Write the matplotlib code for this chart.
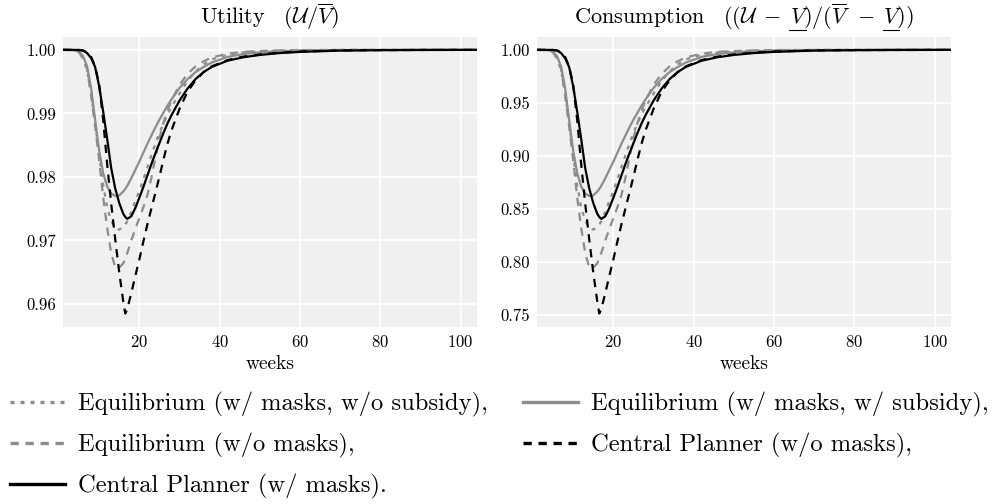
import matplotlib
matplotlib.use("Agg")
import matplotlib.pyplot as plt
from matplotlib.lines import Line2D
from matplotlib.transforms import IdentityTransform
from matplotlib.ticker import FormatStrFormatter, MultipleLocator

plt.rcParams['font.family'] = ['cmr10', 'DejaVu Serif']
plt.rcParams['mathtext.fontset'] = 'cm'
plt.rcParams['axes.formatter.use_mathtext'] = True

# ---------------- data ----------------
weeks = [1, 4, 5, 6, 7, 8, 9, 10, 11, 12, 13, 14, 15, 16, 16.5, 17, 18, 19, 20, 21,
         22, 23, 24, 25, 26, 27, 28, 30, 32, 34, 36, 38, 42, 46, 50, 55, 60, 70, 80, 90, 104]

# Utility  (U / V-bar)
util_eq_masks_nosub = [1.0, 0.99995, 0.99965, 0.9987, 0.9968, 0.9932, 0.9885, 0.9835, 0.9787, 0.9752,
                       0.9731, 0.972, 0.9717, 0.9721, 0.9725, 0.973, 0.9745, 0.9762, 0.9778, 0.9796,
                       0.9815, 0.9834, 0.9852, 0.9869, 0.9884, 0.9898, 0.991, 0.9931, 0.9951, 0.9966,
                       0.9977, 0.9985, 0.99925, 0.9996, 0.99978, 0.9999, 0.99995, 0.99999, 1.0, 1.0, 1.0]
util_eq_nomasks = [1.0, 0.99995, 0.9996, 0.9986, 0.997, 0.9928, 0.988, 0.9827, 0.9768, 0.972,
                   0.968, 0.9658, 0.9657, 0.9664, 0.9671, 0.968, 0.97, 0.9718, 0.9735, 0.9752,
                   0.9771, 0.9798, 0.983, 0.9861, 0.9885, 0.9904, 0.992, 0.9945, 0.9962, 0.9974,
                   0.9982, 0.9988, 0.9994, 0.9997, 0.99982, 0.99992, 0.99996, 0.99999, 1.0, 1.0, 1.0]
util_cp_masks = [1.0, 1.0, 0.99998, 0.9999, 0.9995, 0.9987, 0.9973, 0.9943, 0.9903, 0.986,
                 0.9814, 0.9782, 0.9759, 0.9742, 0.9737, 0.9734, 0.9738, 0.9751, 0.9767, 0.9784,
                 0.9802, 0.982, 0.9837, 0.9853, 0.9869, 0.9884, 0.9897, 0.992, 0.9939, 0.9954,
                 0.9965, 0.9973, 0.9983, 0.99885, 0.9992, 0.9995, 0.99968, 0.99988, 0.99995, 0.99998, 1.0]
util_eq_masks_sub = [1.0, 0.99995, 0.9997, 0.999, 0.9974, 0.994, 0.989, 0.9842, 0.9806, 0.9785,
                     0.9774, 0.977, 0.9771, 0.9777, 0.9781, 0.9786, 0.9798, 0.9811, 0.9824, 0.9838,
                     0.9852, 0.9865, 0.9878, 0.989, 0.9901, 0.9912, 0.9922, 0.994, 0.9954, 0.9965,
                     0.9973, 0.998, 0.9989, 0.99935, 0.9996, 0.9998, 0.9999, 0.99997, 0.99999, 1.0, 1.0]
util_cp_nomasks = [1.0, 1.0, 0.99998, 0.9999, 0.9996, 0.9989, 0.9974, 0.9946, 0.989, 0.982,
                   0.9758, 0.9702, 0.965, 0.9604, 0.9585, 0.9592, 0.9617, 0.9644, 0.967, 0.9698,
                   0.9725, 0.975, 0.9775, 0.98, 0.9827, 0.9852, 0.9873, 0.9907, 0.9934, 0.9952,
                   0.9965, 0.9974, 0.9984, 0.99895, 0.99928, 0.99957, 0.99974, 0.99991, 0.99996, 0.99999, 1.0]

# Consumption  ((U - V_)/(V-bar - V_))
cons_eq_masks_nosub = [1.0, 0.9997, 0.9979, 0.9922, 0.9808, 0.9592, 0.931, 0.901, 0.8722, 0.8512,
                       0.8386, 0.832, 0.8302, 0.8326, 0.835, 0.838, 0.847, 0.8572, 0.8668, 0.8776,
                       0.889, 0.9004, 0.9112, 0.9214, 0.9304, 0.9388, 0.946, 0.9586, 0.9706, 0.9796,
                       0.9862, 0.991, 0.9955, 0.9976, 0.9987, 0.9994, 0.9997, 0.9999, 1.0, 1.0, 1.0]
cons_eq_nomasks = [1.0, 0.9997, 0.9976, 0.9916, 0.982, 0.9568, 0.928, 0.8962, 0.8608, 0.832,
                   0.808, 0.7948, 0.7942, 0.7984, 0.8026, 0.808, 0.82, 0.8308, 0.841, 0.8512,
                   0.8626, 0.8788, 0.898, 0.9166, 0.931, 0.9424, 0.952, 0.967, 0.9772, 0.9844,
                   0.9892, 0.9928, 0.9964, 0.9982, 0.9989, 0.9995, 0.9998, 0.9999, 1.0, 1.0, 1.0]
cons_cp_masks = [1.0, 1.0, 0.9999, 0.9994, 0.997, 0.9922, 0.9838, 0.9658, 0.9418, 0.916,
                 0.8884, 0.8692, 0.8554, 0.8452, 0.8422, 0.8404, 0.8428, 0.8506, 0.8602, 0.8704,
                 0.8812, 0.892, 0.9022, 0.9118, 0.9214, 0.9304, 0.9382, 0.952, 0.9634, 0.9724,
                 0.979, 0.9838, 0.9898, 0.9931, 0.9952, 0.997, 0.9981, 0.9993, 0.9997, 0.9999, 1.0]
cons_eq_masks_sub = [1.0, 0.9997, 0.9982, 0.994, 0.9844, 0.964, 0.934, 0.9052, 0.8836, 0.871,
                     0.8644, 0.862, 0.8626, 0.8662, 0.8686, 0.8716, 0.8788, 0.8866, 0.8944, 0.9028,
                     0.9112, 0.919, 0.9268, 0.934, 0.9406, 0.9472, 0.9532, 0.964, 0.9724, 0.979,
                     0.9838, 0.988, 0.9934, 0.9961, 0.9976, 0.9988, 0.9994, 0.9998, 0.9999, 1.0, 1.0]
cons_cp_nomasks = [1.0, 1.0, 0.9999, 0.9994, 0.9976, 0.9934, 0.9844, 0.9676, 0.934, 0.892,
                   0.8548, 0.8212, 0.79, 0.7624, 0.751, 0.7552, 0.7702, 0.7864, 0.802, 0.8188,
                   0.835, 0.85, 0.865, 0.88, 0.8962, 0.9112, 0.9238, 0.9442, 0.9604, 0.9712,
                   0.979, 0.9844, 0.9904, 0.9937, 0.9957, 0.9974, 0.9984, 0.9995, 0.9998, 0.9999, 1.0]

labels = ["Equilibrium (w/ masks, w/o subsidy),",
          "Equilibrium (w/o masks),",
          "Central Planner (w/ masks).",
          "Equilibrium (w/ masks, w/ subsidy),",
          "Central Planner (w/o masks),"]

util_series = [util_eq_masks_nosub, util_eq_nomasks, util_cp_masks, util_eq_masks_sub, util_cp_nomasks]
cons_series = [cons_eq_masks_nosub, cons_eq_nomasks, cons_cp_masks, cons_eq_masks_sub, cons_cp_nomasks]

GREY = '#8c8c8c'
colors = [GREY, GREY, 'black', GREY, 'black']
kinds = ['dot', 'dash', 'solid', 'solid', 'dash']
zorders = [2, 2, 3, 2, 3]
LW = 1.6
LW_LEG = 2.4


def dash_for(kind, lw):
    # pattern lengths in pixels -> points, divided by linewidth (matplotlib scales by lw)
    if kind == 'dot':
        on, off = 4.0, 6.0
    elif kind == 'dash':
        on, off = 8.3, 6.7
    else:
        return None
    return (on * 0.72 / lw, off * 0.72 / lw)


title1 = r'Utility$\quad$($\mathcal{U}/\overline{V}$)'
# the two plain V's in title2 get an underline drawn below them after layout
pre1 = r'Consumption$\quad$(($\mathcal{U}\;-\;V$'
pre2 = r'Consumption$\quad$(($\mathcal{U}\;-\;V)/(\overline{V}\;\,-\;V$'
title2 = r'Consumption$\quad$(($\mathcal{U}\;-\;V)/(\overline{V}\;\,-\;V)$)'

fig = plt.figure(figsize=(9.92, 5.04), dpi=100)
ax1 = fig.add_axes([0.0635, 0.3518, 0.4170, 0.5754])
ax2 = fig.add_axes([0.5413, 0.3518, 0.4173, 0.5754])

for ax, series, title, step in [(ax1, util_series, title1, 0.01), (ax2, cons_series, title2, 0.05)]:
    ax.set_facecolor('#f0f0f0')
    for s in ax.spines.values():
        s.set_visible(False)
    ax.grid(True, color='white', linewidth=1.3)
    ax.set_axisbelow(True)
    for ys, c, k, lab, z in zip(series, colors, kinds, labels, zorders):
        d = dash_for(k, LW)
        if d is None:
            ax.plot(weeks, ys, color=c, linewidth=LW, label=lab, zorder=z)
        else:
            ax.plot(weeks, ys, color=c, linewidth=LW, dashes=d, label=lab, zorder=z)
    ax.margins(x=0, y=0.05)
    ax.xaxis.set_major_locator(MultipleLocator(20))
    ax.yaxis.set_major_locator(MultipleLocator(step))
    ax.yaxis.set_major_formatter(FormatStrFormatter('%.2f'))
    ax.tick_params(length=0, pad=5, labelsize=12)
    ax.set_xlabel('weeks', fontsize=14, labelpad=4)
    ax.set_title(title, fontsize=16, pad=9)

handles = []
for c, k in zip(colors, kinds):
    d = dash_for(k, LW_LEG)
    if d is None:
        handles.append(Line2D([], [], color=c, linewidth=LW_LEG))
    else:
        handles.append(Line2D([], [], color=c, linewidth=LW_LEG, dashes=d))

fig.legend(handles, labels, loc='upper left', bbox_to_anchor=(0.01, 0.222), ncol=2,
           frameon=False, fontsize=17.7, handlelength=2.25, handletextpad=0.5,
           columnspacing=1.45, labelspacing=0.64, borderaxespad=0, borderpad=0)

# draw underlines below the V's of the consumption title
fig.canvas.draw()
r = fig.canvas.get_renderer()
t = ax2.title
prop = t.get_fontproperties()
bb = t.get_window_extent(r)
_, _, d_full = r.get_text_width_height_descent(t.get_text(), prop, ismath=True)
base = bb.y0 + d_full
wv, _, _ = r.get_text_width_height_descent(r'$V$', prop, ismath=True)
for pre in (pre1, pre2):
    wp, _, _ = r.get_text_width_height_descent(pre, prop, ismath=True)
    x1 = bb.x0 + wp
    x0 = x1 - wv
    fig.add_artist(Line2D([x0 - 1.0, x1 - 3.5], [base - 6.0, base - 6.0],
                          transform=IdentityTransform(), color='black', linewidth=0.8))

fig.savefig('out.png', dpi=100)
